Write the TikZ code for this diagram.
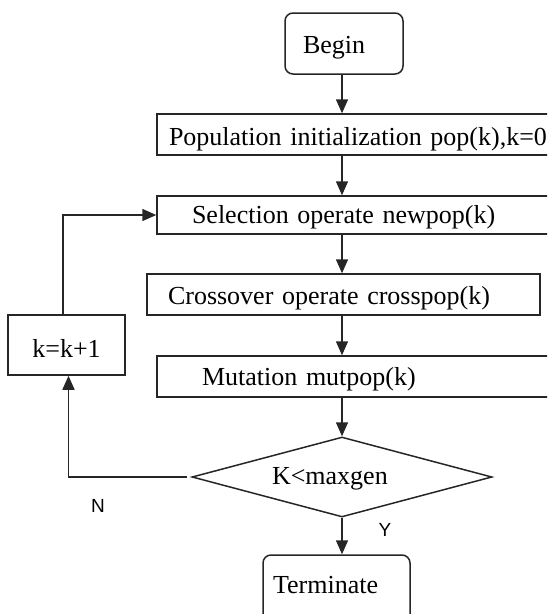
\documentclass[tikz,border=0pt]{standalone}
\usepackage{fontspec}
\setmainfont{Liberation Serif}
\newfontfamily\lblfont{Liberation Sans}
\usetikzlibrary{arrows.meta,shapes.geometric}
\begin{document}
\begin{tikzpicture}[x=1pt,y=-1pt,
  line/.style={line width=1.5pt, draw=black!85},
  arr/.style={line, -{Triangle[width=12pt,length=14pt]}},
  box/.style={line, rectangle, inner ysep=0pt, align=left, text depth=0pt, font=\fontsize{26}{30}\selectfont},
  rbox/.style={box, rounded corners=8pt},
  yn/.style={inner sep=0pt, font=\lblfont\fontsize{19}{20}\selectfont}
]
\useasboundingbox (0,0) rectangle (547,614);
\clip (0,0) rectangle (547,614);
\node[rbox, inner xsep=18pt, text width=82pt, minimum height=61pt, text height=19pt] (begin) at (344,43.5) {Begin};
\node[box, inner xsep=12pt, text width=419pt, minimum height=41pt, text height=21pt] (pop) at (378.5,134.5) {Population initialization pop(k),k=0};
\node[box, inner xsep=35pt, text width=373pt, minimum height=38pt, text height=16pt] (sel) at (378.5,215) {Selection operate newpop(k)};
\node[box, inner xsep=21pt, text width=351pt, minimum height=41pt, text height=19pt] (cross) at (343.5,294.5) {Crossover operate crosspop(k)};
\node[box, inner xsep=45pt, text width=353pt, minimum height=41pt, text height=17pt] (mut) at (378.5,376.5) {Mutation mutpop(k)};
\node[box, align=center, inner xsep=10pt, text width=97pt, minimum height=60pt, text height=24pt] (k) at (66.5,345) {k=k+1};
\node[line, diamond, aspect=3.7, inner sep=0pt, minimum width=300pt, minimum height=80pt, text width=140pt, align=left, text height=15pt, text depth=0pt, font=\fontsize{26}{30}\selectfont] (dec) at (342,477) {K<maxgen};
\node[rbox, inner xsep=10pt, text width=127pt, minimum height=80pt, text height=10pt, text depth=14pt] (term) at (336.5,595) {Terminate};
\node[yn] (lN) at (98,506) {N};
\node[yn] (lY) at (385,530) {Y};
\draw[arr] (dec.north |- begin.south) -- (dec.north |- pop.north);
\draw[arr] (dec.north |- pop.south) -- (dec.north |- sel.north);
\draw[arr] (dec.north |- sel.south) -- (dec.north |- cross.north);
\draw[arr] (dec.north |- cross.south) -- (dec.north |- mut.north);
\draw[arr] (dec.north |- mut.south) -- (dec.north);
\draw[arr] (dec.south) -- (dec.south |- term.north);
\draw[arr] ([xshift=-4pt]dec.west) -| ([xshift=2pt]k.south);
\draw[arr] ([xshift=-3.5pt]k.north) |- (sel.west);
\end{tikzpicture}
\end{document}
